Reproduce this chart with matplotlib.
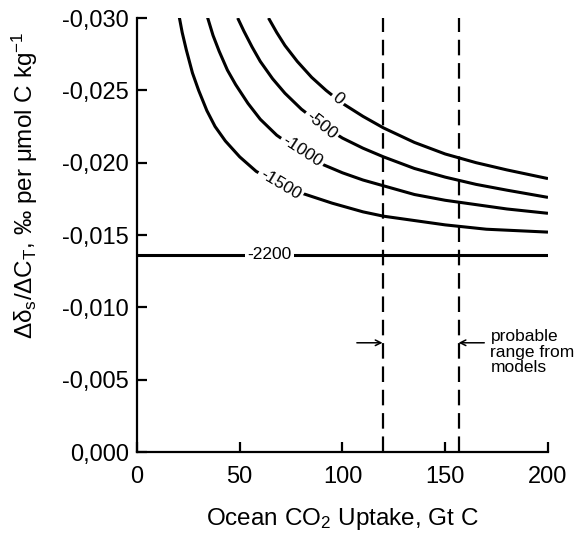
import matplotlib
matplotlib.use("Agg")
import matplotlib.pyplot as plt
from matplotlib.ticker import FuncFormatter

plt.rcParams['font.family'] = ['Liberation Sans', 'DejaVu Sans']
plt.rcParams['mathtext.fontset'] = 'custom'
plt.rcParams['mathtext.rm'] = 'Liberation Sans'
plt.rcParams['mathtext.it'] = 'Liberation Sans:italic'

# curves (x = uptake Gt C, y = d(delta)/dCT)
x_0 = [64, 68, 72, 78, 85, 92, 100, 110, 120, 135, 150, 165, 180, 200]
y_0 = [-0.0300, -0.0290, -0.0281, -0.0270, -0.0259, -0.0250, -0.0241,
       -0.0232, -0.0224, -0.0214, -0.0206, -0.0200, -0.0195, -0.0189]

x_500 = [49, 52, 56, 60, 66, 72, 80, 90, 100, 110, 120, 135, 150, 165, 180, 200]
y_500 = [-0.0300, -0.0291, -0.0280, -0.0270, -0.0258, -0.0248, -0.0237, -0.0226,
         -0.0217, -0.0210, -0.0204, -0.0196, -0.0190, -0.0185, -0.0181, -0.0176]

x_1000 = [34, 37, 40, 44, 48, 54, 60, 68, 78, 90, 100, 110, 120, 135, 150, 165, 180, 200]
y_1000 = [-0.0302, -0.0288, -0.0277, -0.0264, -0.0254, -0.0241, -0.0230, -0.0219,
          -0.0209, -0.0199, -0.0193, -0.0188, -0.0184, -0.0178, -0.0174, -0.0171,
          -0.0168, -0.0165]

x_1500 = [20, 22, 24, 27, 30, 34, 38, 43, 50, 58, 68, 80, 95, 110, 120, 135, 150, 170, 200]
y_1500 = [-0.0305, -0.0290, -0.0278, -0.0262, -0.0250, -0.0236, -0.0225, -0.0215,
          -0.0204, -0.0194, -0.0186, -0.0179, -0.0172, -0.0166, -0.0163, -0.0160,
          -0.0157, -0.0154, -0.0152]

x_2200 = [0, 200]
y_2200 = [-0.01365, -0.01365]

curves = [(x_0, y_0), (x_500, y_500), (x_1000, y_1000), (x_1500, y_1500), (x_2200, y_2200)]

# contour labels: text, x, y, rotation
labels = [("0", 98, -0.0244, -40),
          ("-500", 89.8, -0.0226, -39),
          ("-1000", 80.5, -0.0208, -33),
          ("-1500", 69.8, -0.0185, -31),
          ("-2200", 64.5, -0.01365, 0)]

range_x = [119.5, 156.5]
arrow_y = -0.00755

fig = plt.figure(figsize=(5.77, 5.36), dpi=100)
ax = fig.add_axes([0.2374, 0.1567, 0.7123, 0.8097])

for xs, ys in curves:
    ax.plot(xs, ys, color='black', lw=2.2, solid_capstyle='butt')

for txt, lx, ly, rot in labels:
    ax.text(lx, ly, txt, rotation=rot, fontsize=12.5, ha='center', va='center',
            rotation_mode='anchor',
            bbox=dict(boxstyle='square,pad=0.15', fc='white', ec='none'))

for rx in range_x:
    ax.axvline(rx, color='black', lw=1.6, dashes=(7, 3.5))

ax.annotate('', xy=(range_x[0], arrow_y), xytext=(107, arrow_y),
            arrowprops=dict(arrowstyle='->', lw=1.1, color='black',
                            shrinkA=0, shrinkB=0))
ax.annotate('', xy=(range_x[1], arrow_y), xytext=(169, arrow_y),
            arrowprops=dict(arrowstyle='->', lw=1.1, color='black',
                            shrinkA=0, shrinkB=0))
ax.text(172, -0.0085, "probable\nrange from\nmodels", fontsize=12.5,
        ha='left', va='top', linespacing=1.05)

ax.set_xlim(0, 200)
ax.set_ylim(0, -0.030)
ax.set_xticks([0, 50, 100, 150, 200])
ax.set_yticks([0, -0.005, -0.010, -0.015, -0.020, -0.025, -0.030])


def fmt(v, pos):
    if abs(v) < 1e-12:
        return "0,000"
    return ("%.3f" % v).replace(".", ",")


ax.yaxis.set_major_formatter(FuncFormatter(fmt))

for side in ['top', 'right']:
    ax.spines[side].set_visible(False)
for side in ['left', 'bottom']:
    ax.spines[side].set_linewidth(1.6)

ax.tick_params(direction='in', length=7, width=1.6, labelsize=17)
ax.tick_params(axis='x', pad=10)
ax.tick_params(axis='y', pad=6)

ax.set_xlabel("Ocean CO$_\\mathregular{2}$ Uptake, Gt C", fontsize=17.5, labelpad=13)
ax.set_ylabel("Δδ$_\\mathregular{s}$/ΔC$_\\mathregular{T}$, ‰ per μmol C kg$^\\mathregular{-1}$",
              fontsize=17.5)
ax.yaxis.set_label_coords(-0.236, 0.615)

fig.savefig("out.png", dpi=100)
